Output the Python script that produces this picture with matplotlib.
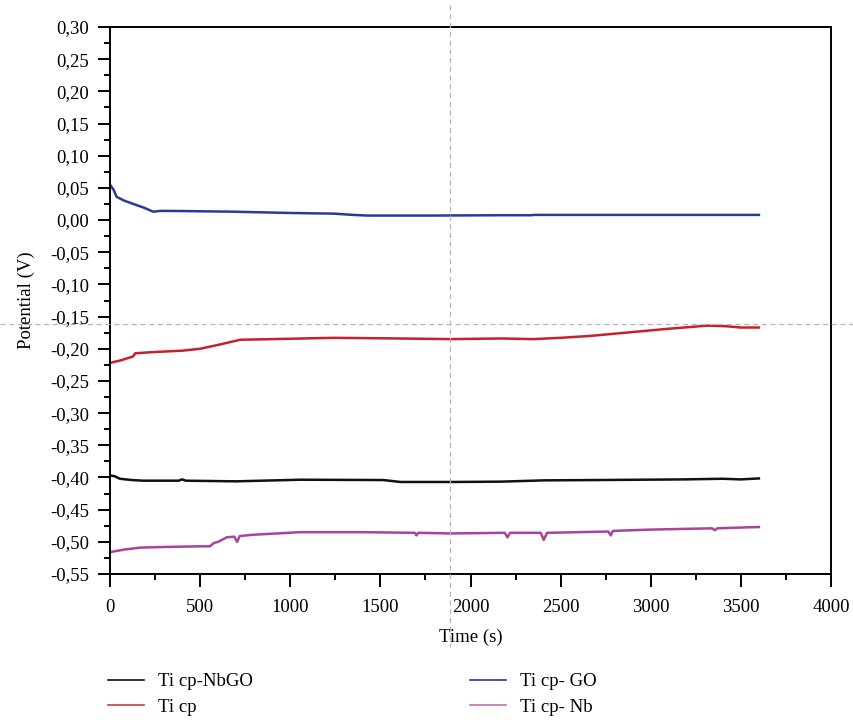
import matplotlib.pyplot as plt
import matplotlib.ticker as mticker
from matplotlib.lines import Line2D

plt.rcParams['font.family'] = ['Liberation Serif', 'DejaVu Serif']

# Ti cp- GO (azul)
t_go = [0, 20, 37, 80, 130, 190, 240, 280, 400, 685, 1000, 1240, 1350, 1426, 1800, 2167, 2340, 2350, 2800, 3300, 3600]
v_go = [0.055, 0.047, 0.036, 0.030, 0.025, 0.019, 0.013, 0.0143, 0.014, 0.013, 0.011, 0.010, 0.008, 0.007, 0.007, 0.0075, 0.0075, 0.008, 0.008, 0.008, 0.008]

# Ti cp (vermelho)
t_cp = [0, 60, 128, 140, 250, 400, 500, 600, 722, 900, 1239, 1600, 1889, 2167, 2350, 2500, 2667, 2900, 3094, 3317, 3420, 3500, 3600]
v_cp = [-0.222, -0.218, -0.212, -0.207, -0.205, -0.203, -0.200, -0.194, -0.186, -0.185, -0.183, -0.184, -0.185, -0.184, -0.185, -0.183, -0.180, -0.174, -0.169, -0.164, -0.165, -0.167, -0.167]

# Ti cp-NbGO (preto)
t_nbgo = [0, 25, 55, 120, 185, 380, 400, 420, 700, 1055, 1517, 1611, 1889, 2167, 2406, 2700, 2944, 3183, 3400, 3500, 3600]
v_nbgo = [-0.397, -0.398, -0.402, -0.404, -0.405, -0.405, -0.403, -0.405, -0.406, -0.4035, -0.404, -0.407, -0.407, -0.4065, -0.4045, -0.404, -0.4035, -0.403, -0.402, -0.403, -0.4015]

# Ti cp- Nb (magenta)
t_nb = [0, 80, 167, 300, 500, 555, 575, 600, 648, 690, 705, 720, 796, 1055, 1400, 1690, 1700, 1710, 1889, 2190, 2205, 2220, 2390, 2406, 2425, 2600, 2765, 2778, 2790, 3000, 3340, 3355, 3370, 3600]
v_nb = [-0.516, -0.512, -0.509, -0.508, -0.507, -0.507, -0.502, -0.500, -0.493, -0.492, -0.500, -0.491, -0.489, -0.485, -0.485, -0.486, -0.490, -0.486, -0.487, -0.486, -0.493, -0.486, -0.486, -0.497, -0.486, -0.485, -0.484, -0.490, -0.483, -0.481, -0.479, -0.482, -0.479, -0.477]

labels = ['Ti cp-NbGO', 'Ti cp', 'Ti cp- GO', 'Ti cp- Nb']
cores = ['#111111', '#c8202a', '#2b3a98', '#a8449c']
cores_leg = ['#111111', '#cc4040', '#2b3a98', '#c070b0']

fs = 13.5

fig = plt.figure(figsize=(8.54, 7.2), dpi=100)
ax = fig.add_axes([110/854, 1-574/720, (831-110)/854, (574-27)/720])

ax.plot(t_nbgo, v_nbgo, color=cores[0], lw=1.8)
ax.plot(t_cp, v_cp, color=cores[1], lw=1.8)
ax.plot(t_go, v_go, color=cores[2], lw=1.8)
ax.plot(t_nb, v_nb, color=cores[3], lw=1.8)

ax.set_xlim(0, 4000)
ax.set_ylim(-0.55, 0.30)
ax.xaxis.set_major_locator(mticker.MultipleLocator(500))
ax.xaxis.set_minor_locator(mticker.MultipleLocator(250))
ax.yaxis.set_major_locator(mticker.MultipleLocator(0.05))
ax.yaxis.set_minor_locator(mticker.MultipleLocator(0.025))
ax.yaxis.set_major_formatter(mticker.FuncFormatter(
    lambda v, p: f"{v:.2f}".replace('.', ',').replace('-0,00', '0,00')))

ax.tick_params(which='major', direction='out', length=9, width=1.4, labelsize=fs, pad=6)
ax.tick_params(axis='x', which='major', pad=9)
ax.tick_params(which='minor', direction='out', length=4.5, width=1.4)
ax.tick_params(top=False, right=False)
for s in ax.spines.values():
    s.set_linewidth(1.4)

ax.set_xlabel('Time (s)', fontsize=fs, labelpad=9)
ax.set_ylabel('Potential (V)', fontsize=fs, labelpad=11)

# linhas tracejadas de cursor
fig.add_artist(Line2D([450/854, 450/854], [1-5/720, 1-647/720], transform=fig.transFigure,
                      color='#b5b5b5', lw=0.9, ls=(0, (4, 3))))
fig.add_artist(Line2D([0, 1], [1-324/720, 1-324/720], transform=fig.transFigure,
                      color='#b5b5b5', lw=0.9, ls=(0, (4, 3))))

# legenda em duas colunas
h = [Line2D([], [], color=c, lw=1.2) for c in cores_leg]
leg1 = fig.legend(h[:2], labels[:2], loc='upper left', bbox_to_anchor=(108/854, 1-673/720),
                  frameon=False, fontsize=fs, handlelength=1.9, handletextpad=0.75,
                  labelspacing=0.45, borderpad=0, borderaxespad=0)
leg2 = fig.legend(h[2:], labels[2:], loc='upper left', bbox_to_anchor=(470/854, 1-673/720),
                  frameon=False, fontsize=fs, handlelength=1.9, handletextpad=0.75,
                  labelspacing=0.45, borderpad=0, borderaxespad=0)

fig.savefig('out.png', dpi=100)
